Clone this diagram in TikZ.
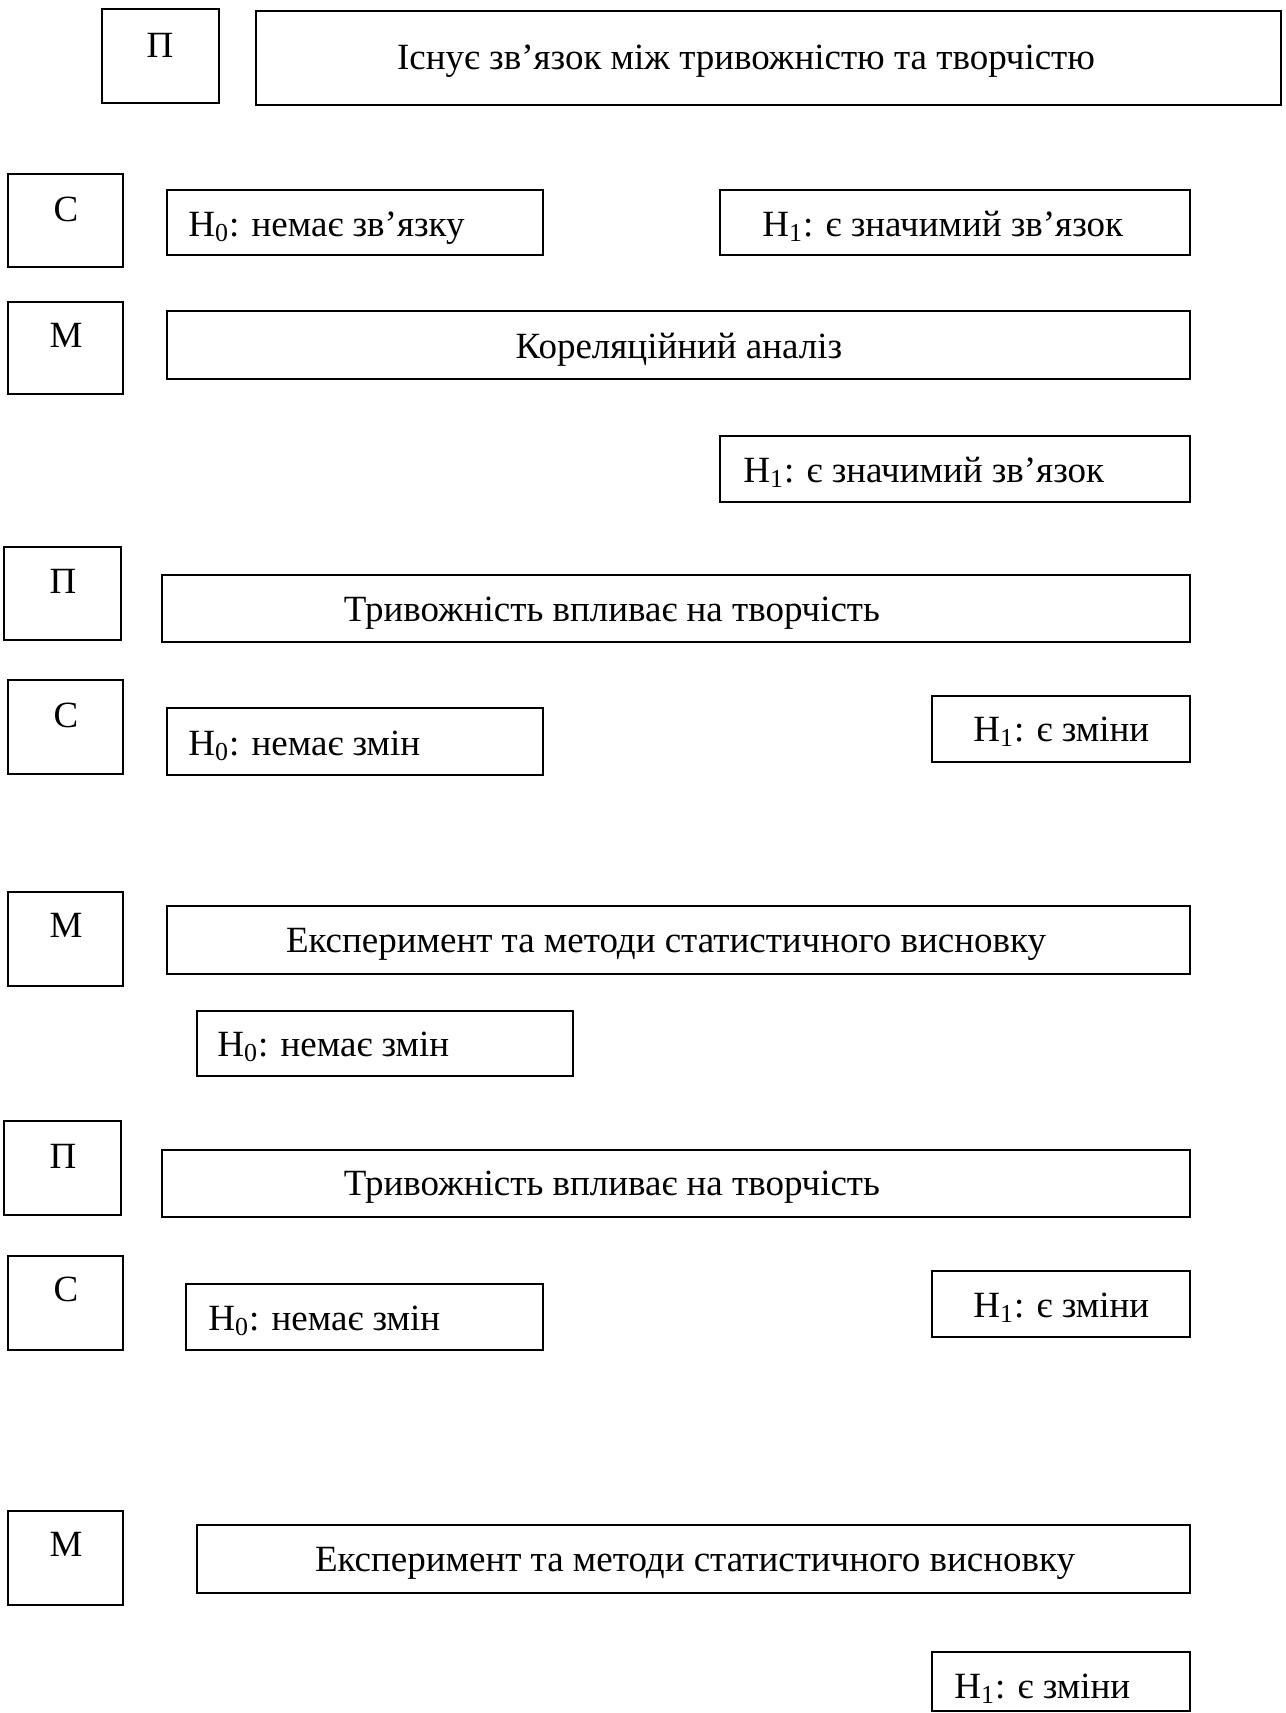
\documentclass[tikz,border=0pt]{standalone}
\usepackage{fontspec}
\setmainfont{Liberation Serif}
\usetikzlibrary{fit}
\begin{document}
\begin{tikzpicture}[x=0.5pt,y=-0.5pt,
  box/.style={draw, line width=1pt, inner sep=0pt, rectangle},
  lbl/.style={font=\fontsize{18.5}{22}\selectfont, inner sep=0pt, yshift=-3.5pt},
  lt/.style={lbl, anchor=mid west},
  ct/.style={lbl, anchor=mid}]
\useasboundingbox (0,0) rectangle (1285,1713);
% row group 1
\node[box, fit={(102,9) (219,103)}] (p1) {};
\node[ct] (p1t) at (160,46) {П};
\node[box, fit={(256,11) (1281,105)}] (b1) {};
\node[ct] (b1t) at (746,58) {Існує зв’язок між тривожністю та творчістю};
\node[box, fit={(8,174) (123,267)}] (c1) {};
\node[ct] (c1t) at (66,210) {С};
\node[box, fit={(167,190) (543,255)}] (h0a) {};
\node[lt] (h0at) at (188,225) {H\textsubscript{0}: немає зв’язку};
\node[box, fit={(720,190) (1190,255)}] (h1a) {};
\node[lt] (h1at) at (762,225) {H\textsubscript{1}: є значимий зв’язок};
\node[box, fit={(8,302) (123,394)}] (m1) {};
\node[ct] (m1t) at (66,336) {М};
\node[box, fit={(167,311) (1190,379)}] (b2) {};
\node[ct] (b2t) at (679,347) {Кореляційний аналіз};
\node[box, fit={(720,436) (1190,502)}] (h1b) {};
\node[lt] (h1bt) at (743,471) {H\textsubscript{1}: є значимий зв’язок};
% row group 2
\node[box, fit={(4,547) (121,640)}] (p2) {};
\node[ct] (p2t) at (63,582) {П};
\node[box, fit={(162,575) (1190,642)}] (b3) {};
\node[ct] (b3t) at (612,610) {Тривожність впливає на творчість};
\node[box, fit={(8,680) (123,774)}] (c2) {};
\node[ct] (c2t) at (66,716) {С};
\node[box, fit={(167,708) (543,775)}] (h0b) {};
\node[lt] (h0bt) at (188,744) {H\textsubscript{0}: немає змін};
\node[box, fit={(932,696) (1190,762)}] (h1c) {};
\node[lt] (h1ct) at (973,730) {H\textsubscript{1}: є зміни};
\node[box, fit={(8,892) (123,986)}] (m2) {};
\node[ct] (m2t) at (66,926) {М};
\node[box, fit={(167,906) (1190,974)}] (b4) {};
\node[ct] (b4t) at (666,941) {Експеримент та методи статистичного висновку};
\node[box, fit={(197,1011) (573,1076)}] (h0c) {};
\node[lt] (h0ct) at (217,1045) {H\textsubscript{0}: немає змін};
% row group 3
\node[box, fit={(4,1121) (121,1215)}] (p3) {};
\node[ct] (p3t) at (63,1157) {П};
\node[box, fit={(162,1150) (1190,1217)}] (b5) {};
\node[ct] (b5t) at (612,1184) {Тривожність впливає на творчість};
\node[box, fit={(8,1256) (123,1350)}] (c3) {};
\node[ct] (c3t) at (66,1290) {С};
\node[box, fit={(186,1284) (543,1350)}] (h0d) {};
\node[lt] (h0dt) at (208,1319) {H\textsubscript{0}: немає змін};
\node[box, fit={(932,1271) (1190,1337)}] (h1d) {};
\node[lt] (h1dt) at (973,1306) {H\textsubscript{1}: є зміни};
\node[box, fit={(8,1511) (123,1605)}] (m3) {};
\node[ct] (m3t) at (66,1545) {М};
\node[box, fit={(197,1525) (1190,1593)}] (b6) {};
\node[ct] (b6t) at (695,1560) {Експеримент та методи статистичного висновку};
\node[box, fit={(932,1652) (1190,1711)}] (h1e) {};
\node[lt] (h1et) at (954,1687) {H\textsubscript{1}: є зміни};
\end{tikzpicture}
\end{document}
